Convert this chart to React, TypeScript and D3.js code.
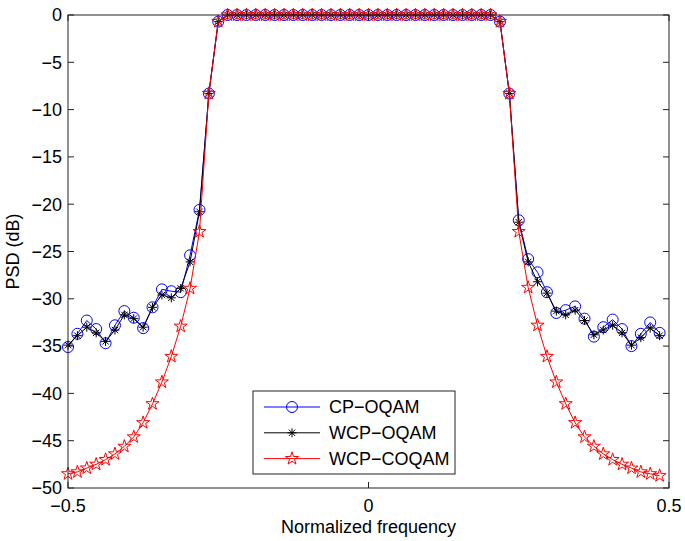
import React, { useEffect, useRef } from 'react';
import * as d3 from 'd3';

// FFT bins, frequency = bin / 64
const bins = [
  -32, -31, -30, -29, -28, -27, -26, -25, -24, -23, -22, -21, -20, -19, -18, -17,
  -16, -15, -14, -13, -12, -11, -10, -9, -8, -7, -6, -5, -4, -3, -2, -1,
  0, 1, 2, 3, 4, 5, 6, 7, 8, 9, 10, 11, 12, 13, 14, 15,
  16, 17, 18, 19, 20, 21, 22, 23, 24, 25, 26, 27, 28, 29, 30, 31,
];

const cpOqam = [
  -35.1, -33.7, -32.3, -33.2, -34.7, -32.8, -31.3, -32.0, -33.1, -30.9, -29.0, -29.2, -29.3, -25.4, -20.6, -8.3,
  -0.7, 0, 0, 0, 0, 0, 0, 0, 0, 0, 0, 0, 0, 0, 0, 0,
  0, 0, 0, 0, 0, 0, 0, 0, 0, 0, 0, 0, 0, 0, -0.7, -8.3,
  -21.7, -25.8, -27.2, -29.3, -31.5, -31.2, -30.8, -32.1, -34.0, -33.0, -32.2, -33.2, -35.0, -33.7, -32.5, -33.6,
];

const wcpOqam = [
  -34.9, -33.9, -33.0, -33.6, -34.5, -33.3, -31.7, -32.1, -33.0, -30.9, -29.6, -29.9, -28.9, -26.1, -20.8, -8.3,
  -0.7, 0, 0, 0, 0, 0, 0, 0, 0, 0, 0, 0, 0, 0, 0, 0,
  0, 0, 0, 0, 0, 0, 0, 0, 0, 0, 0, 0, 0, 0, -0.7, -8.3,
  -21.9, -26.1, -28.2, -29.4, -31.3, -31.7, -31.2, -32.3, -33.8, -33.3, -32.8, -33.6, -34.9, -34.1, -33.1, -33.9,
];

const wcpCoqam = [
  -48.5, -48.3, -47.9, -47.5, -47.0, -46.4, -45.6, -44.6, -43.1, -41.1, -38.8, -36.1, -32.9, -28.9, -22.9, -8.3,
  -0.7, 0, 0, 0, 0, 0, 0, 0, 0, 0, 0, 0, 0, 0, 0, 0,
  0, 0, 0, 0, 0, 0, 0, 0, 0, 0, 0, 0, 0, 0, -0.7, -8.3,
  -22.9, -28.8, -32.8, -36.1, -38.8, -41.1, -43.1, -44.6, -45.6, -46.4, -47.0, -47.5, -47.9, -48.3, -48.5, -48.7,
];

const seriesNames = ['CP\u2212OQAM', 'WCP\u2212OQAM', 'WCP\u2212COQAM'];
const xTicks = [-0.5, 0, 0.5];
const yTicks = [0, -5, -10, -15, -20, -25, -30, -35, -40, -45, -50];

const fmt = (v: number) => String(v).replace('-', '\u2212');

const App = () => {
  const ref = useRef<SVGSVGElement>(null);

  useEffect(() => {
    const W = 685;
    const H = 541;
    const m = { top: 15, right: 16, bottom: 53, left: 68 };
    const font = '"Liberation Sans", Arial, Helvetica, sans-serif';
    const fs = 18;

    const svg = d3.select(ref.current);
    svg.selectAll('*').remove();
    svg.attr('width', W).attr('height', H);

    const x = d3.scaleLinear().domain([-0.5, 0.5]).range([m.left, W - m.right]);
    const y = d3.scaleLinear().domain([-50, 0]).range([H - m.bottom, m.top]);
    const x0 = x.range()[0], x1 = x.range()[1];
    const y0 = y.range()[0], y1 = y.range()[1];

    svg.append('rect').attr('width', W).attr('height', H).attr('fill', '#fff');

    const tick = 6;
    const axes = svg.append('g').attr('stroke', '#222').attr('stroke-width', 1);
    yTicks.forEach(t => {
      axes.append('line').attr('x1', x0).attr('x2', x0 + tick).attr('y1', y(t)).attr('y2', y(t));
      axes.append('line').attr('x1', x1).attr('x2', x1 - tick).attr('y1', y(t)).attr('y2', y(t));
    });
    xTicks.forEach(t => {
      axes.append('line').attr('x1', x(t)).attr('x2', x(t)).attr('y1', y0).attr('y2', y0 - tick);
      axes.append('line').attr('x1', x(t)).attr('x2', x(t)).attr('y1', y1).attr('y2', y1 + tick);
    });

    svg.append('g').selectAll('text').data(yTicks).enter().append('text')
      .attr('x', x0 - 6).attr('y', d => y(d)).attr('dy', '0.35em')
      .attr('text-anchor', 'end').attr('font-family', font).attr('font-size', fs)
      .text(d => fmt(d));

    svg.append('g').selectAll('text').data(xTicks).enter().append('text')
      .attr('x', d => x(d)).attr('y', y0 + 24)
      .attr('text-anchor', 'middle').attr('font-family', font).attr('font-size', fs)
      .text(d => fmt(d));

    svg.append('text').attr('x', (x0 + x1) / 2).attr('y', 533)
      .attr('text-anchor', 'middle').attr('font-family', font).attr('font-size', fs)
      .text('Normalized frequency');

    svg.append('text')
      .attr('transform', `translate(19,${(y0 + y1) / 2}) rotate(-90)`)
      .attr('text-anchor', 'middle').attr('font-family', font).attr('font-size', fs)
      .text('PSD (dB)');

    const freq = bins.map(b => b / 64);
    const line = d3.line<number>().x((_, i) => x(freq[i])).y(d => y(d));

    const asterisk = (r: number) => {
      const s = r * Math.SQRT1_2;
      return `M${-r},0L${r},0M0,${-r}L0,${r}M${-s},${-s}L${s},${s}M${-s},${s}L${s},${-s}`;
    };
    const star = d3.symbol().type(d3.symbolStar).size(52)();
    const circle = d3.symbol().type(d3.symbolCircle).size(Math.PI * 5.5 * 5.5)();

    const series = [
      { values: cpOqam, color: '#0000ff', marker: circle },
      { values: wcpOqam, color: '#000000', marker: asterisk(4.5) },
      { values: wcpCoqam, color: '#ff0000', marker: star },
    ];

    series.forEach(s => {
      const g = svg.append('g');
      g.append('path').datum(s.values).attr('d', line)
        .attr('fill', 'none').attr('stroke', s.color).attr('stroke-width', 1);
      g.selectAll('path.mk').data(s.values).enter().append('path')
        .attr('class', 'mk')
        .attr('transform', (d, i) => `translate(${x(freq[i])},${y(d)})`)
        .attr('d', s.marker)
        .attr('fill', 'none').attr('stroke', s.color).attr('stroke-width', 1);
    });

    // box drawn after the data
    svg.append('rect').attr('x', x0).attr('y', y1).attr('width', x1 - x0).attr('height', y0 - y1)
      .attr('fill', 'none').attr('stroke', '#222').attr('stroke-width', 1);

    // legend
    const lg = svg.append('g');
    const lx = 253, ly = 391, lw = 202, lh = 83;
    lg.append('rect').attr('x', lx).attr('y', ly).attr('width', lw).attr('height', lh)
      .attr('fill', '#fff').attr('stroke', '#222').attr('stroke-width', 1);
    series.forEach((s, i) => {
      const yy = ly + 16 + i * 25.8;
      lg.append('line').attr('x1', lx + 11).attr('x2', lx + 67).attr('y1', yy).attr('y2', yy)
        .attr('stroke', s.color).attr('stroke-width', 1);
      lg.append('path').attr('transform', `translate(${lx + 39},${yy})`).attr('d', s.marker)
        .attr('fill', 'none').attr('stroke', s.color).attr('stroke-width', 1);
      lg.append('text').attr('x', lx + 76).attr('y', yy).attr('dy', '0.35em')
        .attr('font-family', font).attr('font-size', fs).text(seriesNames[i]);
    });
  }, []);

  return (
    <svg ref={ref} style={{ position: 'absolute', left: 0, top: 0 }}></svg>
  );
};

export default App;
